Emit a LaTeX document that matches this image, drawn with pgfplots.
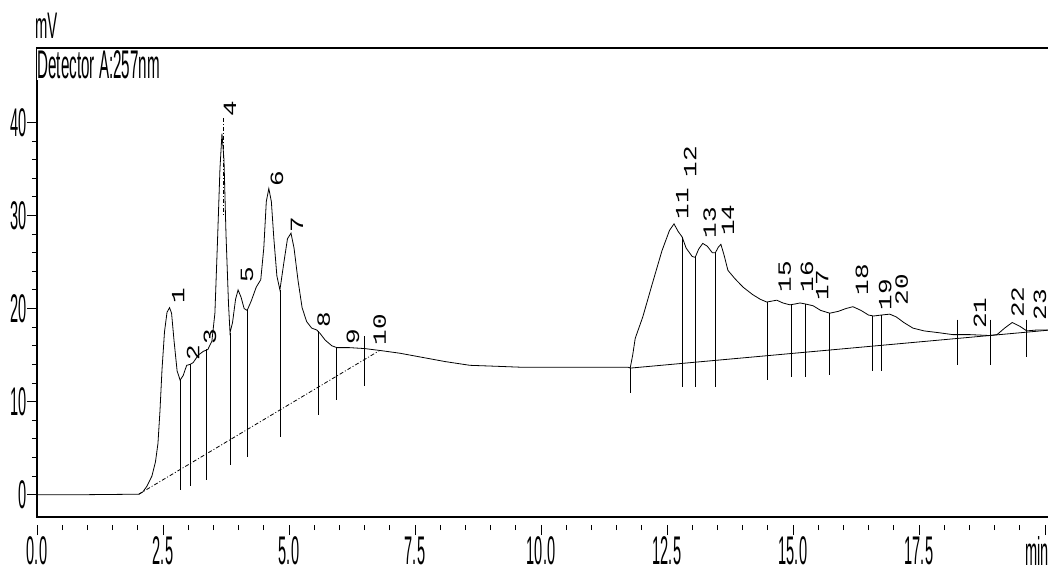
\documentclass[border=0pt]{standalone}
\usepackage{fontspec}
\setmainfont{Liberation Sans}
\newfontfamily\pkfont{Liberation Mono}
\usepackage{pgfplots}
\pgfplotsset{compat=1.18}
\pgfplotstableread{
x y
0.00 0.0
1.00 0.0
2.02 0.05
2.10 0.3
2.18 0.9
2.28 2.0
2.35 3.5
2.40 5.5
2.44 9.0
2.48 13.4
2.53 17.5
2.58 19.6
2.63 20.1
2.67 19.5
2.72 16.5
2.78 13.3
2.84 12.3
2.90 12.8
2.97 13.9
3.04 14.0
3.10 14.2
3.20 15.0
3.30 15.4
3.39 15.6
3.47 16.5
3.53 19.5
3.58 27.0
3.63 35.0
3.67 38.8
3.71 36.0
3.75 28.0
3.80 20.5
3.83 17.4
3.88 18.5
3.94 21.0
3.99 22.0
4.05 21.2
4.11 20.0
4.17 19.8
4.25 20.8
4.35 22.3
4.44 23.1
4.50 26.5
4.55 31.5
4.60 32.9
4.65 31.5
4.70 27.5
4.76 23.5
4.82 22.0
4.90 25.0
4.97 27.5
5.04 28.1
5.10 26.5
5.18 23.0
5.26 20.1
5.35 18.6
5.45 17.9
5.55 17.7
5.62 17.3
5.72 16.6
5.85 16.0
5.95 15.8
6.20 15.8
6.50 15.7
6.80 15.5
7.20 15.2
7.60 14.8
8.10 14.3
8.59 13.9
9.10 13.8
9.58 13.7
10.58 13.7
11.73 13.7
11.77 13.6
11.82 15.0
11.87 16.8
12.02 19.1
12.20 22.5
12.40 26.2
12.55 28.4
12.64 29.1
12.72 28.3
12.80 27.7
12.88 26.5
13.00 25.6
13.06 25.5
13.13 26.4
13.21 27.0
13.30 26.7
13.40 26.0
13.46 26.0
13.52 26.6
13.57 26.9
13.63 25.8
13.71 24.1
13.85 23.2
14.01 22.3
14.20 21.5
14.35 21.0
14.48 20.7
14.58 20.8
14.68 20.9
14.80 20.6
14.94 20.4
15.05 20.5
15.14 20.6
15.24 20.5
15.40 20.3
15.55 19.8
15.73 19.5
15.90 19.7
16.05 20.0
16.19 20.2
16.35 19.8
16.50 19.3
16.60 19.2
16.75 19.3
16.92 19.4
17.05 19.1
17.20 18.5
17.38 17.9
17.60 17.6
17.90 17.4
18.17 17.2
18.50 17.2
18.91 17.1
19.05 17.2
19.20 17.9
19.35 18.5
19.50 18.1
19.64 17.6
19.85 17.7
20.12 17.7
}\signal
\pgfplotstableread{
x y
2.84 12.3
2.84 0.5
nan nan
3.04 14.0
3.04 0.9
nan nan
3.37 15.6
3.37 1.6
nan nan
3.83 17.4
3.83 3.2
nan nan
4.17 19.8
4.17 4.1
nan nan
4.82 22.0
4.82 6.2
nan nan
5.58 17.6
5.58 8.6
nan nan
5.95 15.8
5.95 10.2
nan nan
6.49 17.0
6.49 11.7
nan nan
11.77 13.6
11.77 10.9
nan nan
12.80 27.7
12.80 11.6
nan nan
13.06 25.5
13.06 11.6
nan nan
13.46 26.0
13.46 11.6
nan nan
14.50 20.7
14.50 12.3
nan nan
14.96 20.4
14.96 12.6
nan nan
15.24 20.5
15.24 12.6
nan nan
15.73 19.5
15.73 12.9
nan nan
16.57 19.2
16.57 13.3
nan nan
16.75 19.3
16.75 13.3
nan nan
18.27 18.8
18.27 13.9
nan nan
18.91 18.8
18.91 13.9
nan nan
19.64 18.8
19.64 14.8
}\droplines
\begin{document}
\begin{tikzpicture}
\path[use as bounding box] (0,0) rectangle (1048pt,578pt);
\begin{axis}[
  at={(37pt,61pt)}, anchor=south west,
  scale only axis, width=1014pt, height=469pt,
  xmin=0, xmax=20.12, ymin=-2.4, ymax=48,
  axis line style={line width=1.2pt},
  tick align=outside,
  xtick={0,2.5,5,7.5,10,12.5,15,17.5,20},
  xticklabels={0.0,2.5,5.0,7.5,10.0,12.5,15.0,17.5,\hspace*{-44pt}min},
  minor x tick num=4,
  ytick={0,10,20,30,40},
  minor y tick num=4,
  xtick pos=bottom, ytick pos=left,
  major tick length=10pt, minor tick length=5pt,
  tick style={black, line width=0.9pt},
  xtick style={yshift=-8pt},
  /pgf/number format/assume math mode=true,
  xticklabel style={font=\fontsize{40}{40}\selectfont, xscale=0.365, yshift=-6pt},
  yticklabel style={font=\fontsize{40}{40}\selectfont, xscale=0.365, xshift=2pt},
  clip=false,
]
\addplot[black, line width=0.8pt] table[x=x,y=y] {\signal};
\addplot[black, line width=0.8pt, unbounded coords=jump] table[x=x,y=y] {\droplines};
\addplot[black, line width=0.8pt, dash pattern=on 4pt off 2pt on 1pt off 2pt] coordinates {(2.02,0.05) (6.80,15.5)};
\addplot[black, line width=0.8pt] coordinates {(11.77,13.6) (20.12,17.7)};
\addplot[black, line width=0.8pt, dash pattern=on 4pt off 2pt on 1pt off 2pt] coordinates {(3.69,40.5) (3.69,30)};
\begin{scope}[every node/.style={font=\pkfont\fontsize{26}{26}\selectfont, xscale=0.72, rotate=90, inner sep=0pt}]
\node at (axis cs:2.80,21.4) {1};
\node at (axis cs:3.10,15.3) {2};
\node at (axis cs:3.43,17.0) {3};
\node at (axis cs:3.83,41.5) {4};
\node at (axis cs:4.17,23.6) {5};
\node at (axis cs:4.76,34.0) {6};
\node at (axis cs:5.16,29.0) {7};
\node at (axis cs:5.69,18.8) {8};
\node at (axis cs:6.27,17.0) {9};
\node at (axis cs:6.80,17.7) {10};
\node at (axis cs:12.80,31.3) {11};
\node at (axis cs:12.96,35.8) {12};
\node at (axis cs:13.35,29.2) {13};
\node at (axis cs:13.71,29.5) {14};
\node at (axis cs:14.84,23.4) {15};
\node at (axis cs:15.28,23.4) {16};
\node at (axis cs:15.58,22.5) {17};
\node at (axis cs:16.37,23.1) {18};
\node at (axis cs:16.83,21.5) {19};
\node at (axis cs:17.16,22.0) {20};
\node at (axis cs:18.71,19.5) {21};
\node at (axis cs:19.46,20.7) {22};
\node at (axis cs:19.90,20.4) {23};
\end{scope}
\node[font=\fontsize{37}{37}\selectfont, xscale=0.40, anchor=south west, inner sep=0pt] at (rel axis cs:-0.002,1.02) {mV};
\node[font=\fontsize{40}{40}\selectfont, xscale=0.38, anchor=west, inner sep=1pt, fill=white] at (rel axis cs:0.0,0.965) {Detector A:257nm};
\end{axis}
\end{tikzpicture}
\end{document}
